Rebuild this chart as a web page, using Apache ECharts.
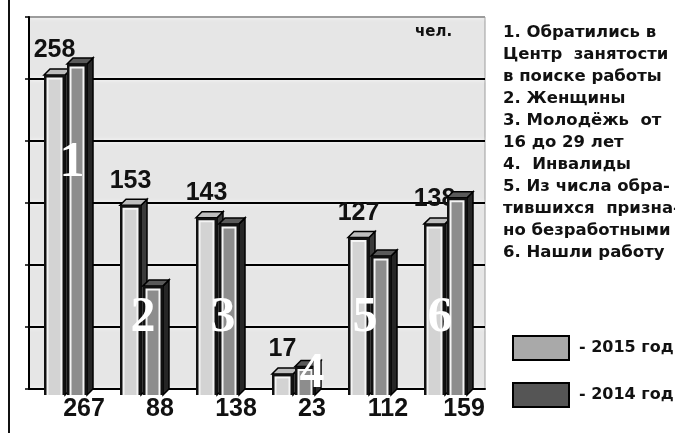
<!DOCTYPE html>
<html>
<head>
<meta charset="utf-8">
<script src="https://cdn.jsdelivr.net/npm/echarts@6/dist/echarts.min.js"></script>
<style>
  html, body { margin: 0; padding: 0; background: #fff; }
  #wrap { position: relative; width: 675px; height: 433px; overflow: hidden; }
  #chart { position: absolute; left: 0; top: 0; width: 675px; height: 433px; }
  #edge { position: absolute; left: 8px; top: 0; width: 2px; height: 433px; background: #111; }
</style>
</head>
<body>
<div id="wrap"><div id="chart"></div><div id="edge"></div></div>
<script>
// ---- data ----
const categories = ['1', '2', '3', '4', '5', '6'];
const values2015 = [258, 153, 143, 17, 127, 138];
const values2014 = [267, 88, 138, 23, 112, 159];
const seriesNames = ['2015 год', '2014 год'];
const unitLabel = 'чел.';
const explanationLines = [
  '1. Обратились в',
  'Центр  занятости',
  'в поиске работы',
  '2. Женщины',
  '3. Молодёжь  от',
  '16 до 29 лет',
  '4.  Инвалиды',
  '5. Из числа обра-',
  'тившихся  призна-',
  'но безработными',
  '6. Нашли работу'
];
const yMin = 0, yMax = 300, yStep = 50;

// ---- styling / layout constants ----
const DEPTH = 6;
const numFont = 'bold 25px "Liberation Sans", Arial, sans-serif';
const style2015 = { front: '#d3d3d3', top: '#bdbdbd', side: '#3a3a3a', legend: '#a9a9a9', offset: -23, width: 21 };
const style2014 = { front: '#8d8d8d', top: '#5a5a5a', side: '#262626', legend: '#555555', offset: 0, width: 20 };
// placement of big white category numbers: [x shift px, level in axis units]
const bigNumberPlacement = [[5, 182], [0, 57], [4, 57], [17, 12], [-6, 57], [-7, 57]];

function barRender(st, labelMode) {
  return function (params, api) {
    const cat = api.value(0), v = api.value(1);
    const base = api.coord([cat, 0]);
    const topP = api.coord([cat, v]);
    const d = DEPTH, w = st.width;
    const x0 = base[0] + st.offset;
    const y0f = base[1] + d;
    const yvf = topP[1] + d;
    const h = y0f - yvf;
    const children = [
      { type: 'polygon', shape: { points: [[x0 + w, yvf], [x0 + w + d, yvf - d], [x0 + w + d, y0f - d], [x0 + w, y0f]] },
        style: { fill: st.side, stroke: '#000', lineWidth: 1.5 } },
      { type: 'polygon', shape: { points: [[x0, yvf], [x0 + d, yvf - d], [x0 + w + d, yvf - d], [x0 + w, yvf]] },
        style: { fill: st.top, stroke: '#000', lineWidth: 1.5 } },
      { type: 'rect', shape: { x: x0, y: yvf, width: w, height: h }, style: { fill: '#111' } },
      { type: 'rect', shape: { x: x0 + 2.5, y: yvf + 2.5, width: Math.max(w - 5, 0), height: Math.max(h - 2.5, 0) }, style: { fill: '#f4f4f4' } },
      { type: 'rect', shape: { x: x0 + 4.5, y: yvf + 4.5, width: Math.max(w - 9, 0), height: Math.max(h - 4.5, 0) }, style: { fill: st.front } }
    ];
    if (labelMode === 'top') {
      children.push({ type: 'text', style: {
        text: String(v), x: x0 + w / 2, y: topP[1] - 6, align: 'center', verticalAlign: 'bottom',
        font: numFont, fill: '#111' } , z2: 50 });
    } else {
      children.push({ type: 'text', style: {
        text: String(v), x: base[0] + 17, y: base[1] + 20, align: 'center', verticalAlign: 'middle',
        font: numFont, fill: '#111' }, z2: 50 });
    }
    return { type: 'group', children: children };
  };
}

const chart = echarts.init(document.getElementById('chart'), null, { renderer: 'canvas' });
chart.setOption({
  animation: false,
  backgroundColor: '#fff',
  grid: { left: 29, right: 190, top: 17, bottom: 44, show: true, backgroundColor: '#e6e6e6', borderColor: '#9c9c9c', borderWidth: 1 },
  xAxis: {
    type: 'category', data: categories, offset: DEPTH,
    axisLine: { show: true, lineStyle: { color: '#000', width: 2 } },
    axisTick: { show: false }, axisLabel: { show: false }, splitLine: { show: false }
  },
  yAxis: {
    type: 'value', min: yMin, max: yMax, interval: yStep,
    axisLine: { show: true, lineStyle: { color: '#000', width: 2 } },
    axisTick: { show: true, length: 4, lineStyle: { color: '#000', width: 1.5 } },
    axisLabel: { show: false },
    splitLine: { show: true, lineStyle: { color: ['#a8a8a8', '#000', '#000', '#000', '#000', '#000', '#9c9c9c'], width: 2, shadowColor: '#ffffff', shadowBlur: 4 } }
  },
  legend: {
    data: seriesNames, orient: 'vertical', left: 507, top: 330,
    icon: 'rect', itemWidth: 56, itemHeight: 24, itemGap: 21,
    itemStyle: { borderColor: '#000', borderWidth: 2 },
    formatter: '- {name}',
    textStyle: { fontFamily: '"DejaVu Sans", sans-serif', fontWeight: 'bold', fontSize: 16, color: '#111', padding: [0, 0, 0, 5] },
    selectedMode: false
  },
  graphic: [
    { type: 'text', left: 415, top: 25, style: { text: unitLabel, font: 'bold 15px "DejaVu Sans", sans-serif', fill: '#111' } },
    { type: 'text', left: 503, top: 22, style: { text: explanationLines.join('\n'), font: 'bold 16.5px "DejaVu Sans", sans-serif', lineHeight: 22, fill: '#111' } }
  ],
  series: [
    { name: seriesNames[0], type: 'custom', clip: false, itemStyle: { color: style2015.legend },
      encode: { x: 0, y: 1 }, data: values2015.map((v, i) => [i, v]), renderItem: barRender(style2015, 'top'), z: 3 },
    { name: seriesNames[1], type: 'custom', clip: false, itemStyle: { color: style2014.legend },
      encode: { x: 0, y: 1 }, data: values2014.map((v, i) => [i, v]), renderItem: barRender(style2014, 'bottom'), z: 4 },
    { name: 'numbers', type: 'custom', clip: false, silent: true, z: 10,
      data: categories.map((c, i) => [i, c]),
      renderItem: function (params, api) {
        const i = params.dataIndex;
        const p = api.coord([i, bigNumberPlacement[i][1]]);
        return { type: 'text', style: {
          text: categories[i], x: p[0] + bigNumberPlacement[i][0], y: p[1], align: 'center', verticalAlign: 'middle',
          font: 'bold 50px "Liberation Serif", serif', fill: '#ffffff', shadowColor: 'rgba(0,0,0,0.3)', shadowBlur: 2 } };
      } }
  ]
});
</script>
</body>
</html>
